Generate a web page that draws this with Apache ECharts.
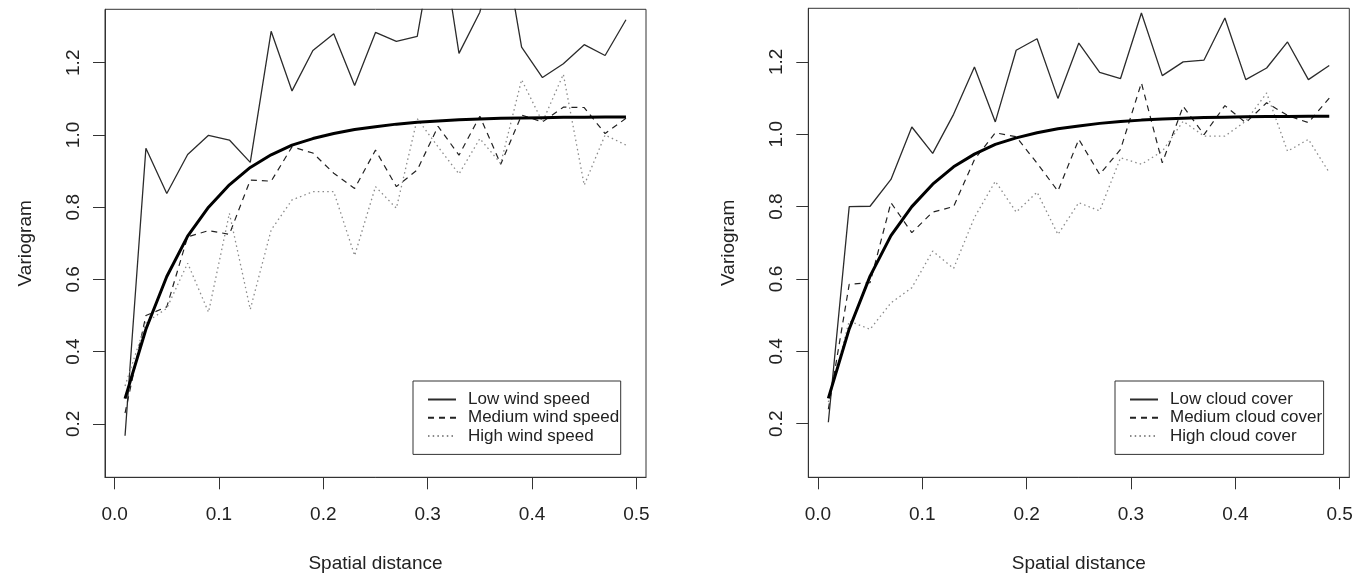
<!DOCTYPE html>
<html><head><meta charset="utf-8">
<script src="https://cdn.jsdelivr.net/npm/echarts@6/dist/echarts.min.js"></script>
<style>html,body{margin:0;padding:0;background:#fff}#c{width:1371px;height:580px}</style>
</head><body><div id="c"></div>
<script>
// Spatial distance (lag centres)
const distances = [0.01,0.03,0.05,0.07,0.09,0.11,0.13,0.15,0.17,0.19,0.21,0.23,0.25,0.27,0.29,0.31,0.33,0.35,0.37,0.39,0.41,0.43,0.45,0.47,0.49];
// Left panel: wind speed
const lowWind    = [0.167,0.963,0.838,0.946,0.999,0.986,0.924,1.287,1.122,1.234,1.280,1.137,1.284,1.259,1.273,1.600,1.226,1.340,1.580,1.243,1.159,1.197,1.250,1.220,1.319];
const mediumWind = [0.230,0.500,0.524,0.718,0.735,0.725,0.875,0.872,0.967,0.950,0.894,0.852,0.958,0.857,0.903,1.024,0.944,1.052,0.919,1.055,1.036,1.077,1.076,1.004,1.046];
const highWind   = [0.305,0.480,0.520,0.645,0.509,0.783,0.517,0.737,0.820,0.843,0.843,0.666,0.857,0.797,1.045,0.967,0.892,0.990,0.921,1.153,1.036,1.168,0.861,1.000,0.972];
// Right panel: cloud cover
const lowCloud    = [0.204,0.800,0.801,0.875,1.020,0.947,1.055,1.186,1.034,1.232,1.264,1.099,1.252,1.171,1.154,1.335,1.162,1.200,1.205,1.321,1.151,1.183,1.255,1.151,1.190];
const mediumCloud = [0.240,0.585,0.590,0.811,0.728,0.785,0.800,0.930,1.004,0.993,0.920,0.843,0.986,0.889,0.958,1.142,0.921,1.077,0.999,1.079,1.032,1.087,1.052,1.032,1.100];
const highCloud   = [0.260,0.484,0.461,0.534,0.576,0.677,0.629,0.770,0.870,0.785,0.840,0.723,0.811,0.788,0.935,0.917,0.953,1.036,0.995,0.995,1.036,1.114,0.953,0.986,0.894];
// Fitted variogram model (same in both panels)
const fitted = [0.270,0.462,0.608,0.720,0.800,0.862,0.910,0.945,0.972,0.990,1.004,1.015,1.023,1.030,1.035,1.039,1.042,1.044,1.046,1.047,1.048,1.049,1.049,1.050,1.050];
// Tick labels
const xTicks = [0.0,0.1,0.2,0.3,0.4,0.5];
const yTicks = [0.2,0.4,0.6,0.8,1.0,1.2];
const windNames = ['Low wind speed','Medium wind speed','High wind speed'];
const cloudNames = ['Low cloud cover','Medium cloud cover','High cloud cover'];

const FONT = '"Liberation Sans", Arial, Helvetica, sans-serif';
const AX = '#333';
const TXT = '#222';

function pairs(arr){ return distances.map((d,i)=>[d, arr[i]]); }

function makeX(gi){
  return {
    type:'value', gridIndex:gi, min:-0.0092, max:0.5092,
    axisLine:{show:true, onZero:false, lineStyle:{color:AX, width:1}},
    axisTick:{show:true, customValues:xTicks, length:12, lineStyle:{color:AX, width:1}},
    axisLabel:{customValues:xTicks, formatter:v=>v.toFixed(1), margin:28, fontSize:19, color:TXT, fontFamily:FONT},
    splitLine:{show:false},
    name:'Spatial distance', nameLocation:'middle', nameGap:77,
    nameTextStyle:{fontSize:19, color:TXT, fontFamily:FONT}
  };
}
function makeY(gi){
  return {
    type:'value', gridIndex:gi, min:0.052, max:1.348,
    axisLine:{show:true, onZero:false, lineStyle:{color:AX, width:1}},
    axisTick:{show:true, customValues:yTicks, length:12, lineStyle:{color:AX, width:1}},
    axisLabel:{customValues:yTicks, formatter:v=>v.toFixed(1), rotate:90, margin:22, fontSize:19, color:TXT, fontFamily:FONT},
    splitLine:{show:false},
    name:'Variogram', nameLocation:'middle', nameGap:70, nameRotate:90,
    nameTextStyle:{fontSize:19, color:TXT, fontFamily:FONT}
  };
}
function lineSeries(name, arr, gi, style){
  return {type:'line', name:name, xAxisIndex:gi, yAxisIndex:gi, data:pairs(arr),
    symbol:'none', showSymbol:false, animation:false, clip:true,
    lineStyle:style, itemStyle:{color:style.color}, z: style.z || 2};
}
const solid  = {color:'#2b2b2b', width:1.3, type:'solid'};
const dashed = {color:'#222', width:1.2, type:[6,5]};
const dotted = {color:'#8a8a8a', width:1.3, type:[1.5,3.2]};
const thick  = {color:'#000', width:3, type:'solid', z:3};

function makeLegend(left, names){
  return {
    show:true, orient:'vertical', left:left, top:381,
    data:names, selectedMode:false,
    itemWidth:28, itemHeight:14, itemGap:1.2,
    padding:[10,1.5,10,14],
    borderColor:AX, borderWidth:1, backgroundColor:'#fff',
    itemStyle:{opacity:0, color:'transparent', borderWidth:0},
    textStyle:{fontSize:17, color:TXT, fontFamily:FONT, lineHeight:17, padding:[0,0,0,7]}
  };
}

const option = {
  backgroundColor:'#fff',
  animation:false,
  grid:[
    {left:105, top:9.3, width:541, height:468, show:true, borderColor:AX, borderWidth:1, backgroundColor:'transparent'},
    {left:808.3, top:8.3, width:541, height:469, show:true, borderColor:AX, borderWidth:1, backgroundColor:'transparent'}
  ],
  xAxis:[makeX(0), makeX(1)],
  yAxis:[makeY(0), makeY(1)],
  legend:[makeLegend(413, windNames), makeLegend(1115, cloudNames)],
  series:[
    lineSeries(windNames[0], lowWind, 0, solid),
    lineSeries(windNames[1], mediumWind, 0, dashed),
    lineSeries(windNames[2], highWind, 0, dotted),
    lineSeries('Fitted (wind)', fitted, 0, thick),
    lineSeries(cloudNames[0], lowCloud, 1, solid),
    lineSeries(cloudNames[1], mediumCloud, 1, dashed),
    lineSeries(cloudNames[2], highCloud, 1, dotted),
    lineSeries('Fitted (cloud)', fitted, 1, thick)
  ]
};
const chart = echarts.init(document.getElementById('c'));
chart.setOption(option);
</script>
</body></html>
